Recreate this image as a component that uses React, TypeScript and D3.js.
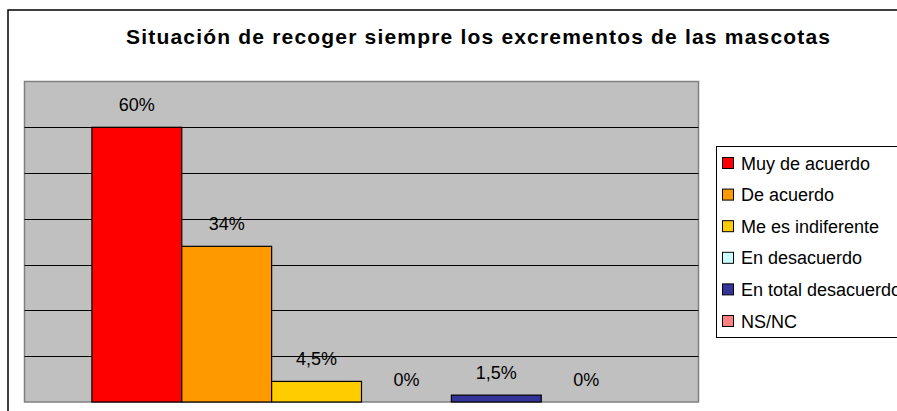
import React from "react";
import * as d3 from "d3";

const TITLE = "Situación de recoger siempre los excrementos de las mascotas";
const SERIES = ["Muy de acuerdo", "De acuerdo", "Me es indiferente", "En desacuerdo", "En total desacuerdo", "NS/NC"];
const VALUES = [60, 34, 4.5, 0, 1.5, 0];
const COLORS = ["#FF0000", "#FF9900", "#FFCC00", "#CCFFFF", "#333399", "#FF8080"];
const Y_TICKS = [10, 20, 30, 40, 50, 60];
const Y_MAX = 70;

const W = 897;
const H = 411;
const FONT = "'Liberation Sans', Arial, sans-serif";

export default function App() {
  const plot = { left: 24.5, top: 81.5, right: 698.5, bottom: 402 };
  const y = d3.scaleLinear().domain([0, Y_MAX]).range([plot.bottom, plot.top]);
  const x = d3
    .scaleBand<string>()
    .domain(SERIES)
    .range([plot.left, plot.right])
    .paddingInner(0)
    .paddingOuter(0.75);
  const fmt = (v: number) => `${v}`.replace(".", ",") + "%";

  const legend = { left: 716.5, top: 146.5, width: 200, height: 191, step: 31.6, first: 163 };

  return (
    <svg
      width={W}
      height={H}
      style={{ position: "absolute", left: 0, top: 0, background: "#fff" }}
      fontFamily={FONT}
    >
      <rect x={0} y={0} width={W} height={H} fill="#fff" />
      {/* outer chart frame */}
      <rect x={8} y={10} width={950} height={420} fill="#fff" stroke="#000" strokeWidth={1.5} />
      <text
        x={478}
        y={44}
        textAnchor="middle"
        fontSize={21}
        fontWeight="bold"
        fill="#000"
        textLength={704}
        lengthAdjust="spacing"
      >
        {TITLE}
      </text>

      {/* plot area */}
      <rect
        x={plot.left}
        y={plot.top}
        width={plot.right - plot.left}
        height={plot.bottom - plot.top}
        fill="#C0C0C0"
        stroke="#808080"
        strokeWidth={1.5}
      />
      {Y_TICKS.map((t) => (
        <line
          key={t}
          x1={plot.left}
          x2={plot.right}
          y1={Math.round(y(t)) + 0.5}
          y2={Math.round(y(t)) + 0.5}
          stroke="#000"
          strokeWidth={1}
        />
      ))}

      {SERIES.map((s, i) => {
        const v = VALUES[i];
        const bx = x(s)!;
        const bw = x.bandwidth();
        return (
          <g key={s}>
            {v > 0 && (
              <rect
                x={bx}
                y={y(v)}
                width={bw}
                height={y(0) - y(v)}
                fill={COLORS[i]}
                stroke="#000"
                strokeWidth={1.2}
              />
            )}
            <text
              x={bx + bw / 2}
              y={y(v) - 16}
              textAnchor="middle"
              fontSize={18}
              fill="#000"
            >
              {fmt(v)}
            </text>
          </g>
        );
      })}

      {/* legend */}
      <rect
        x={legend.left}
        y={legend.top}
        width={legend.width}
        height={legend.height}
        fill="#fff"
        stroke="#000"
        strokeWidth={1}
      />
      {SERIES.map((s, i) => {
        const cy = legend.first + i * legend.step;
        return (
          <g key={s}>
            <rect x={722.5} y={cy - 5.5} width={11} height={11} fill={COLORS[i]} stroke="#000" strokeWidth={1} />
            <text x={741} y={cy + 6.5} fontSize={18} fill="#000">
              {s}
            </text>
          </g>
        );
      })}
    </svg>
  );
}
